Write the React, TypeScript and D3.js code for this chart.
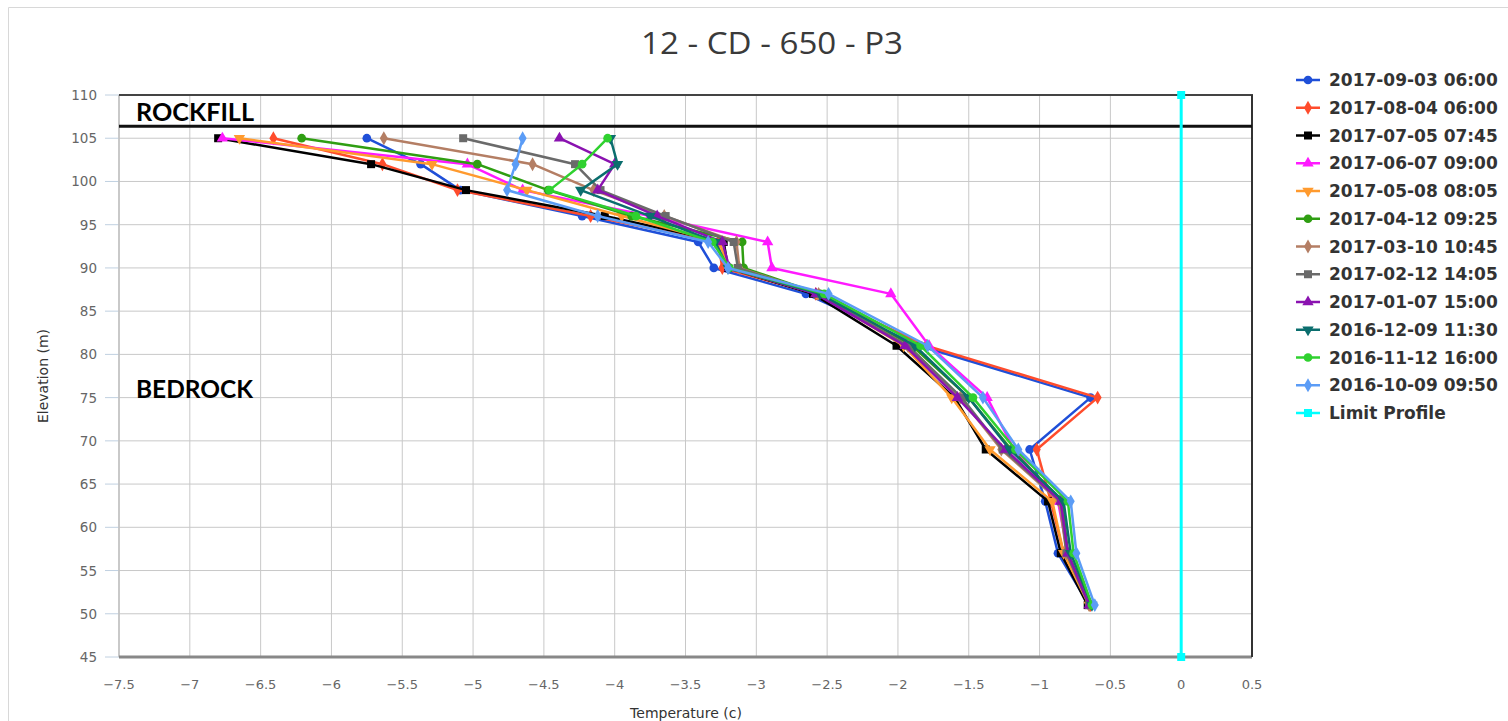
import React from "react";
import * as d3 from "d3";

const ELEVATIONS = [105, 102, 99, 96, 93, 90, 87, 81, 75, 69, 63, 57, 51];

const S_20170903 = [-5.75, -5.37, -5.09, -4.23, -3.41, -3.30, -2.65, -1.85, -0.64, -1.07, -0.96, -0.87, -0.65];
const S_20170804 = [-6.41, -5.64, -5.11, -4.17, -3.27, -3.24, -2.58, -1.80, -0.59, -1.02, -0.92, -0.83, -0.64];
const S_20170705 = [-6.80, -5.72, -5.05, -4.07, -3.23, -3.20, -2.60, -2.01, -1.60, -1.38, -0.94, -0.85, -0.66];
const S_20170607 = [-6.77, -5.04, -4.65, -3.75, -2.92, -2.89, -2.05, -1.78, -1.37, -1.18, -0.87, -0.80, -0.64];
const S_20170508 = [-6.65, -5.29, -4.62, -3.95, -3.26, -3.20, -2.57, -1.96, -1.62, -1.35, -0.91, -0.83, -0.65];
const S_20170412 = [-6.21, -4.97, -4.47, -3.88, -3.10, -3.09, -2.55, -1.90, -1.50, -1.20, -0.84, -0.80, -0.64];
const S_20170310 = [-5.63, -4.58, -4.15, -3.65, -3.14, -3.12, -2.56, -1.93, -1.56, -1.27, -0.86, -0.81, -0.65];
const S_20170212 = [-5.07, -4.28, -4.10, -3.64, -3.16, -3.13, -2.57, -1.93, -1.55, -1.26, -0.85, -0.81, -0.65];
const S_20170107 = [-4.39, -4.00, -4.12, -3.70, -3.24, -3.19, -2.58, -1.95, -1.58, -1.24, -0.85, -0.80, -0.65];
const S_20161209 = [-4.03, -3.98, -4.24, -3.75, -3.29, -3.20, -2.55, -1.88, -1.50, -1.21, -0.83, -0.78, -0.63];
const S_20161112 = [-4.05, -4.23, -4.46, -3.85, -3.31, -3.19, -2.52, -1.84, -1.47, -1.17, -0.80, -0.76, -0.63];
const S_20161009 = [-4.65, -4.70, -4.76, -4.12, -3.34, -3.20, -2.49, -1.79, -1.40, -1.15, -0.78, -0.74, -0.61];

const LIMIT_TEMPS = [0, 0];
const LIMIT_ELEVS = [110, 45];

const SERIES_NAMES = [
  "2017-09-03 06:00", "2017-08-04 06:00", "2017-07-05 07:45", "2017-06-07 09:00",
  "2017-05-08 08:05", "2017-04-12 09:25", "2017-03-10 10:45", "2017-02-12 14:05",
  "2017-01-07 15:00", "2016-12-09 11:30", "2016-11-12 16:00", "2016-10-09 09:50",
];
const SERIES_VALUES = [
  S_20170903, S_20170804, S_20170705, S_20170607, S_20170508, S_20170412,
  S_20170310, S_20170212, S_20170107, S_20161209, S_20161112, S_20161009,
];
const SERIES_COLORS = [
  "#1f4fd8", "#ff4c2c", "#000000", "#ff1aff", "#ff9a2e", "#2f9e12",
  "#b47e64", "#6a6a6a", "#8a12b0", "#0b6e6e", "#2fd12f", "#5b9cf6",
];
const SERIES_MARKERS = [
  "circle", "diamond", "square", "triangle", "triangle-down", "circle",
  "diamond", "square", "triangle", "triangle-down", "circle", "diamond",
];
const LIMIT_NAME = "Limit Profile";
const LIMIT_COLOR = "#00ffff";

const X_TICKS = d3.range(-7.5, 0.51, 0.5);
const Y_TICKS = d3.range(45, 111, 5);
const ROCKFILL_ELEV = 106.4;
const BEDROCK_LABEL_ELEV = 75.4;

const TITLE = "12 - CD - 650 - P3";

const W = 1508, H = 721;
const PL = 119, PR = 1252, PT = 95, PB = 657;

function markerPath(type: string) {
  const map: any = {
    circle: d3.symbol().type(d3.symbolCircle).size(60),
    diamond: d3.symbol().type(d3.symbolDiamond).size(56),
    square: d3.symbol().type(d3.symbolSquare).size(64),
    triangle: d3.symbol().type(d3.symbolTriangle).size(56),
    "triangle-down": d3.symbol().type(d3.symbolTriangle).size(56),
  };
  return map[type]() as string;
}

function Marker({ type, x, y, color }: { type: string; x: number; y: number; color: string }) {
  const rot = type === "triangle-down" ? " rotate(180)" : "";
  return <path d={markerPath(type)} transform={`translate(${x},${y})${rot}`} fill={color} />;
}

export default function App() {
  const x = d3.scaleLinear().domain([-7.5, 0.5]).range([PL, PR]);
  const y = d3.scaleLinear().domain([45, 110]).range([PB, PT]);
  const line = d3.line<[number, number]>().x((d) => x(d[0])).y((d) => y(d[1]));
  const tickFont = "'DejaVu Sans', Verdana, sans-serif";

  return (
    <svg width={W} height={H} style={{ position: "fixed", left: 0, top: 0, background: "#fff" }}>
      <rect x={0} y={0} width={W} height={H} fill="#fff" />
      {/* container border */}
      <line x1={8.5} y1={7.5} x2={W} y2={7.5} stroke="#d8d8d8" />
      <line x1={8.5} y1={7.5} x2={8.5} y2={H} stroke="#d8d8d8" />

      <text x={772} y={54} textAnchor="middle" fontFamily="'Open Sans', sans-serif" fontSize={31} fill="#3a3a3a" textLength={262} lengthAdjust="spacingAndGlyphs">{TITLE}</text>

      {/* grid */}
      {X_TICKS.map((t) => (
        <line key={"gx" + t} x1={x(t)} x2={x(t)} y1={PT} y2={PB} stroke="#c8c8c8" strokeWidth={1} />
      ))}
      {Y_TICKS.map((t) => (
        <line key={"gy" + t} x1={PL} x2={PR} y1={y(t)} y2={y(t)} stroke="#c8c8c8" strokeWidth={1} />
      ))}
      {/* y ticks */}
      {Y_TICKS.map((t) => (
        <g key={"yt" + t}>
          <line x1={PL - 14} x2={PL} y1={y(t)} y2={y(t)} stroke="#c0d0e0" />
          <text x={97} y={y(t) + 5} textAnchor="end" fontFamily={tickFont} fontSize={13.5} fill="#666">{t}</text>
        </g>
      ))}
      {X_TICKS.map((t) => (
        <text key={"xt" + t} x={x(t)} y={689} textAnchor="middle" fontFamily={tickFont} fontSize={13} fill="#666">
          {d3.format("")(+t.toFixed(1))}
        </text>
      ))}
      <text x={686} y={718} textAnchor="middle" fontFamily={tickFont} fontSize={14} fill="#333">Temperature (c)</text>
      <text transform={`translate(48,${(PT + PB) / 2}) rotate(-90)`} textAnchor="middle" fontFamily={tickFont} fontSize={14} fill="#333">Elevation (m)</text>

      {/* plot borders */}
      <line x1={PL} x2={PL} y1={PT} y2={PB} stroke="#c0c0c0" strokeWidth={1.5} />
      <line x1={PL} x2={PR} y1={PB} y2={PB} stroke="#888" strokeWidth={3} />
      <line x1={PL} x2={PR + 1} y1={PT} y2={PT} stroke="#444" strokeWidth={2} />
      <line x1={PR} x2={PR} y1={PT} y2={PB} stroke="#333" strokeWidth={2} />
      <line x1={PL} x2={PR} y1={y(ROCKFILL_ELEV)} y2={y(ROCKFILL_ELEV)} stroke="#111" strokeWidth={3} />

      <text x={136} y={121} fontFamily="Lato, sans-serif" fontWeight="bold" fontSize={24} fill="#000" textLength={118} lengthAdjust="spacingAndGlyphs">ROCKFILL</text>
      <text x={136} y={y(BEDROCK_LABEL_ELEV) + 4} fontFamily="Lato, sans-serif" fontWeight="bold" fontSize={24} fill="#000" textLength={117} lengthAdjust="spacingAndGlyphs">BEDROCK</text>

      {/* series */}
      {SERIES_VALUES.map((vals, i) => {
        const pts: [number, number][] = vals.map((v, j) => [v, ELEVATIONS[j]]);
        return (
          <g key={"s" + i}>
            <path d={line(pts) as string} fill="none" stroke={SERIES_COLORS[i]} strokeWidth={2.5} strokeLinejoin="round" />
            {pts.map((p, j) => (
              <Marker key={j} type={SERIES_MARKERS[i]} x={x(p[0])} y={y(p[1])} color={SERIES_COLORS[i]} />
            ))}
          </g>
        );
      })}
      {/* limit profile */}
      {(() => {
        const pts: [number, number][] = LIMIT_TEMPS.map((v, j) => [v, LIMIT_ELEVS[j]]);
        return (
          <g>
            <path d={line(pts) as string} fill="none" stroke={LIMIT_COLOR} strokeWidth={3} />
            {pts.map((p, j) => (
              <Marker key={j} type="square" x={x(p[0])} y={y(p[1])} color={LIMIT_COLOR} />
            ))}
          </g>
        );
      })()}

      {/* legend */}
      {[...SERIES_NAMES, LIMIT_NAME].map((name, i) => {
        const ly = 80 + i * 27.75;
        const color = i < SERIES_NAMES.length ? SERIES_COLORS[i] : LIMIT_COLOR;
        const mk = i < SERIES_NAMES.length ? SERIES_MARKERS[i] : "square";
        return (
          <g key={"lg" + i}>
            <line x1={1296} x2={1320} y1={ly} y2={ly} stroke={color} strokeWidth={2.5} />
            <Marker type={mk} x={1308} y={ly} color={color} />
            <text x={1329} y={ly + 6} fontFamily="'DejaVu Sans', sans-serif" fontWeight="bold" fontSize={17} fill="#333">{name}</text>
          </g>
        );
      })}
    </svg>
  );
}
